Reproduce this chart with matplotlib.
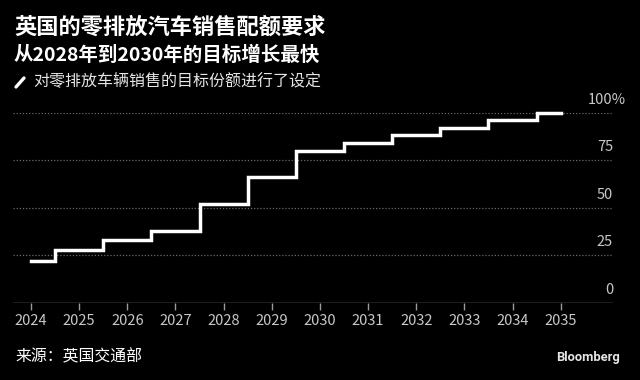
import matplotlib
matplotlib.use("Agg")
import matplotlib.pyplot as plt
from matplotlib.lines import Line2D

plt.rcParams['font.family'] = ['Noto Sans CJK SC', 'DejaVu Sans']

years = [2024, 2025, 2026, 2027, 2028, 2029, 2030, 2031, 2032, 2033, 2034, 2035]
share = [22, 28, 33, 38, 52, 66, 80, 84, 88, 92, 96, 100]
yticks = [0, 25, 50, 75, 100]
ylabels = ["0", "25", "50", "75", "100%"]

title1 = "英国的零排放汽车销售配额要求"
title2 = "从2028年到2030年的目标增长最快"
legend_text = "对零排放车辆销售的目标份额进行了设定"
source = "来源：英国交通部"

W, H = 640, 380
fig = plt.figure(figsize=(W / 100, H / 100), dpi=100, facecolor="black")
ax = fig.add_axes([13 / W, 1 - 302.7 / H, (613 - 13) / W, (302.7 - 112.7) / H])
ax.set_facecolor("black")

ax.plot(years, share, drawstyle="steps-mid", color="white", lw=2.5,
        solid_joinstyle="miter", clip_on=False, zorder=3)

ax.set_xlim(2023.626, 2036.086)
ax.set_ylim(0, 100)

for s in ax.spines.values():
    s.set_visible(False)
ax.axhline(0, color="#9a9a9a", lw=1, zorder=2)
for v in yticks[1:]:
    ax.axhline(v, color="#6a6a6a", lw=0.9, ls=(0, (1, 1.5)), zorder=1)

# y labels sit above their gridline, numbers right-aligned at the axes edge,
# the % sign hangs past it
ax.set_yticks([])
for v, lab in zip(yticks, ylabels):
    dx = 9.5 if lab.endswith("%") else 0
    ax.annotate(lab, xy=(1, v), xycoords=("axes fraction", "data"),
                xytext=(dx, 9.5), textcoords="offset points",
                ha="right", va="center", color="#c8c8c8", fontsize=10.5)

ax.set_xticks(years)
ax.set_xticklabels([str(y) for y in years])
ax.tick_params(axis="x", colors="#9a9a9a", length=5, width=1, direction="out",
               labelcolor="#c8c8c8", labelsize=10.5, pad=3)

fig.text(14 / W, 1 - 27 / H, title1, color="white", fontsize=16,
         fontweight="bold", va="center", ha="left")
fig.text(14 / W, 1 - 55 / H, title2, color="white", fontsize=14,
         fontweight="bold", va="center", ha="left")
fig.add_artist(Line2D([16 / W, 24 / W], [1 - 87 / H, 1 - 78 / H],
                      color="white", lw=2.4, solid_capstyle="round"))
fig.text(33 / W, 1 - 81 / H, legend_text, color="#e6e6e6", fontsize=11.5,
         va="center", ha="left")
fig.text(15 / W, 1 - 357 / H, source, color="white", fontsize=11.4,
         va="center", ha="left")
fig.text(620 / W, 1 - 358 / H, "Bloomberg", color="#e6e6e6", fontsize=9.3,
         fontweight="bold", va="center", ha="right",
         family=["Roboto", "DejaVu Sans"])

fig.savefig("out.png", dpi=100, facecolor="black")
